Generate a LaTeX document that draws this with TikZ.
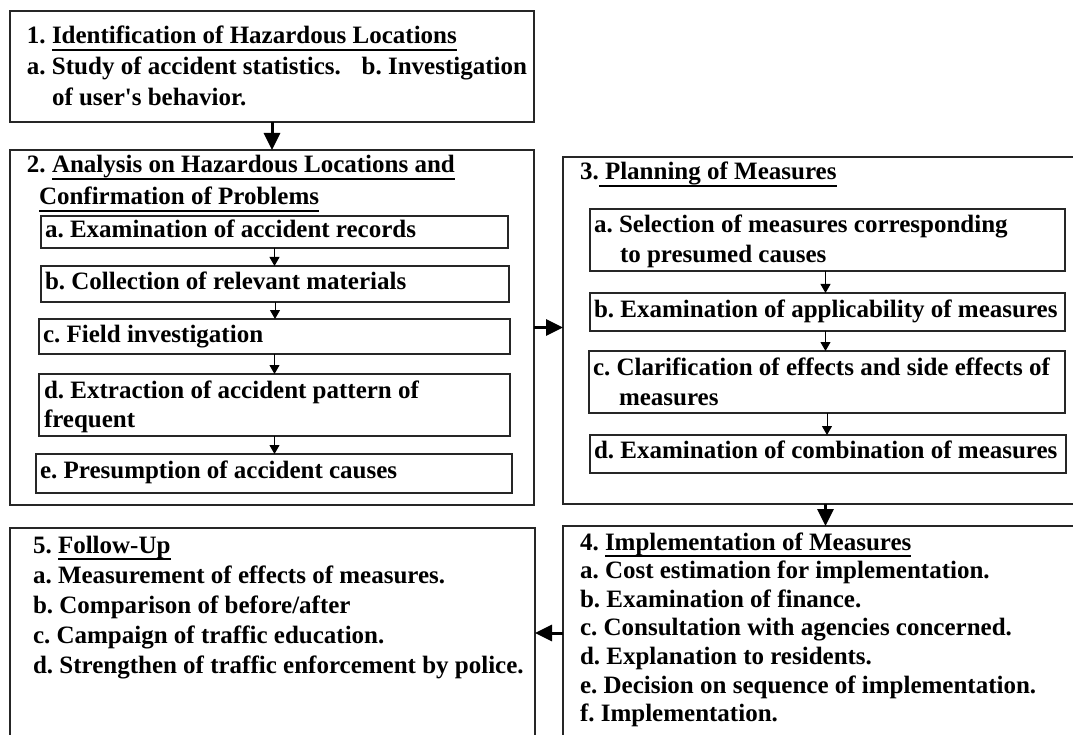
\documentclass[tikz,border=0pt]{standalone}
\usepackage{fontspec}
\usetikzlibrary{arrows.meta}
\newfontfamily\tnr{Liberation Serif}
% underline drawn at a fixed depth below the baseline
\newcommand\ulx[1]{\setbox0\hbox{#1}\rlap{\rule[-7pt]{\wd0}{2.4pt}}\box0}
\tikzset{
  box/.style={draw=black!85, line width=1.3pt, inner sep=0pt, outer sep=0pt},
  txt/.style={anchor=base west, inner sep=0pt, outer sep=0pt,
              font=\tnr\bfseries\fontsize{25}{29}\selectfont\frenchspacing},
  bigarrow/.style={line width=3pt, -{Triangle[length=17pt,width=16pt]}},
  smallarrow/.style={line width=1pt, -{Triangle[length=9pt,width=10pt]}},
}
\newcommand\boxat[5]{% name, x1, y1, x2, y2
  \node[box, minimum width={(#4-#2)*1pt}, minimum height={(#5-#3)*1pt}]
    (#1) at ({(#2+#4)/2},{(#3+#5)/2}) {};}
\begin{document}
\begin{tikzpicture}[x=1pt, y=-1pt]
\useasboundingbox (0,0) rectangle (1073,735);
\clip (0,0) rectangle (1073,735);
\fill[white] (0,0) rectangle (1073,735);

% outer boxes
\boxat{b1}{10}{11}{534}{122}
\boxat{b2}{10}{150}{534}{505}
\boxat{b3}{563}{157}{1090}{504}
\boxat{b4}{563}{526}{1090}{740}
\boxat{b5}{10}{528}{535}{738}

% inner boxes of step 2
\boxat{b2a}{41}{216}{508}{248}
\boxat{b2b}{41}{266}{509}{302}
\boxat{b2c}{39}{319}{510}{354}
\boxat{b2d}{39}{374}{510}{436}
\boxat{b2e}{36}{454}{512}{493}

% inner boxes of step 3
\boxat{b3a}{590}{209}{1065}{271}
\boxat{b3b}{590}{293}{1065}{331}
\boxat{b3c}{589}{351}{1065}{413}
\boxat{b3d}{590}{435}{1066}{473}

% step 1
\node[txt] (t1) at (27,44) {1.~\ulx{Identification of Hazardous Locations}};
\node[txt] (t1a) at (27,75) {\hbox to 500pt{a. Study of accident statistics.\hfill b. Investigation}};
\node[txt] (t1b) at (52,106) {of user's behavior.};

% step 2
\node[txt] (t2) at (27,173) {2.~\ulx{Analysis on Hazardous Locations and}};
\node[txt] (t2x) at (39,205) {\ulx{Confirmation of Problems}};
\node[txt] (t2a) at (45,238) {a. Examination of accident records};
\node[txt] (t2b) at (45,289) {b. Collection of relevant materials};
\node[txt] (t2c) at (43,342) {c. Field investigation};
\node[txt] (t2d) at (44,398) {d. Extraction of accident pattern of};
\node[txt] (t2dd) at (44,427) {frequent};
\node[txt] (t2e) at (40,478) {e. Presumption of accident causes};

% step 3
\node[txt] (t3) at (580,180) {3.\ulx{ Planning of Measures}};
\node[txt] (t3a) at (594,233) {a. Selection of measures corresponding};
\node[txt] (t3aa) at (620,263) {to presumed causes};
\node[txt] (t3b) at (594,317) {b. Examination of applicability of measures};
\node[txt] (t3c) at (593,375) {c. Clarification of effects and side effects of};
\node[txt] (t3cc) at (619,405) {measures};
\node[txt] (t3d) at (594,458) {d. Examination of combination of measures};

% step 4
\node[txt] (t4) at (580,550) {4.~\ulx{Implementation of Measures}};
\foreach \s [count=\i] in {
  {a. Cost estimation for implementation.},
  {b. Examination of finance.},
  {c. Consultation with agencies concerned.},
  {d. Explanation to residents.},
  {e. Decision on sequence of implementation.},
  {f. Implementation.}}
  \node[txt] (t4-\i) at (580,{550+28.6*\i}) {\s};

% step 5
\node[txt] (t5) at (33,553) {5.~\ulx{Follow-Up}};
\foreach \s [count=\i] in {
  {a. Measurement of effects of measures.},
  {b. Comparison of before/after},
  {c. Campaign of traffic education.},
  {d. Strengthen of traffic enforcement by police.}}
  \node[txt] (t5-\i) at (33,{553+30*\i}) {\s};

% main flow
\draw[bigarrow] (b1.south) -- (b2.north);
\draw[bigarrow] (b2.east) -- (b2.east -| b3.west);
\draw[bigarrow] ([xshift=-1pt]b3.south) -- ([xshift=-1pt]b3.south |- b4.north);
\draw[bigarrow] (b4.west) -- (b5.east);

% flow inside step 2
\draw[smallarrow] (b2a.south) -- (b2a.south |- b2b.north);
\draw[smallarrow] (b2b.south) -- (b2b.south |- b2c.north);
\draw[smallarrow] (b2c.south) -- (b2c.south |- b2d.north);
\draw[smallarrow] (b2d.south) -- (b2d.south |- b2e.north);

% flow inside step 3
\draw[smallarrow] ([xshift=-2pt]b3a.south) -- ([xshift=-2pt]b3a.south |- b3b.north);
\draw[smallarrow] ([xshift=-2pt]b3b.south) -- ([xshift=-2pt]b3b.south |- b3c.north);
\draw[smallarrow] (b3c.south) -- (b3c.south |- b3d.north);
\end{tikzpicture}
\end{document}
